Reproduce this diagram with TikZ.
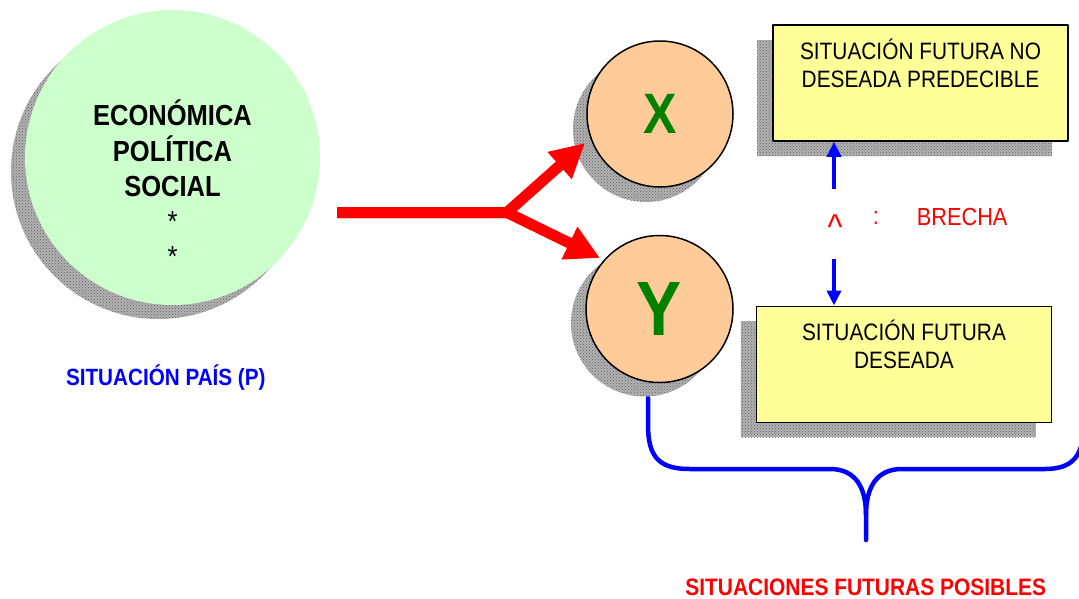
\documentclass[tikz,border=0pt]{standalone}
\usepackage{fontspec}
\setmainfont{Liberation Sans}[FakeStretch=0.88]
\usepackage{tikz}
\usetikzlibrary{arrows.meta, patterns, positioning, shadows}

\definecolor{paisfill}{HTML}{CCFFCC}
\definecolor{peach}{HTML}{FFCC99}
\definecolor{boxyellow}{HTML}{FFFF99}
\definecolor{lettergreen}{HTML}{008000}
\definecolor{arrowred}{HTML}{FF0000}
\definecolor{gapblue}{HTML}{0000FF}

\tikzset{
  grayshadow/.style 2 args={drop shadow={shadow xshift=#1, shadow yshift=#2, opacity=1,
      fill=black!30, postaction={pattern=crosshatch dots, pattern color=black!62}}},
  pais/.style={circle, fill=paisfill, minimum size=295pt, inner sep=0pt},
  future/.style={circle, draw=black, line width=1.5pt, fill=peach, inner sep=0pt,
      text=lettergreen},
  situbox/.style={rectangle, draw=black, line width=1.6pt, fill=boxyellow,
      minimum width=295pt, minimum height=116pt, grayshadow={-16pt}{-15pt}},
  boxtext/.style={align=center, inner sep=0pt, font=\fontsize{23.7}{28}\selectfont},
  redlabel/.style={text=arrowred, font=\fontsize{24.7}{28}\selectfont},
  bigarrow/.style={draw=arrowred, line width=11pt, line join=miter,
      -{Triangle[length=34pt,width=34pt]}},
  gaparrow/.style={draw=gapblue, line width=4pt, -{Triangle[length=15pt,width=14pt]}},
  brace/.style={draw=gapblue, line width=4.5pt, line cap=round}
}

\begin{document}
\begin{tikzpicture}[x=1pt,y=-1pt,line join=bevel]
\useasboundingbox (0,0) rectangle (1079,598);
%%
  % Brace: situaciones futuras
  \draw[brace] (648,398) -- (648,425) .. controls (648,458) and (660,469) .. (690,469)
    -- (830,469) .. controls (856,469) and (866,488) .. (866,515) -- (866,540);
  \draw[brace] (866,515) .. controls (866,488) and (876,469) .. (902,469)
    -- (1045,469) .. controls (1070,469) and (1083,458) .. (1083,430) -- (1083,380);
  % Node: pais
  \node[pais, grayshadow={-14pt}{-14pt}] (pais) at (172.5,157.5) {};
  \node[align=center, inner sep=0pt, font=\fontsize{29}{35.3}\selectfont\bfseries,
      below=90pt of pais.north] (paistext)
      {ECONÓMICA\\POLÍTICA\\SOCIAL\\{\mdseries *}\\{\mdseries *}};
  \node[anchor=base, text=gapblue, font=\fontsize{23.5}{28}\selectfont\bfseries]
      (paislabel) at (165.8,385) {SITUACIÓN PAÍS (P)};
  % Node: x
  \node[future, minimum size=146pt, font=\fontsize{57}{60}\selectfont\bfseries,
      grayshadow={-14pt}{-15pt}] (x) at (660,114) {X};
  % Node: y
  \node[future, minimum size=147pt, font=\fontsize{77}{80}\selectfont\bfseries,
      grayshadow={-15pt}{-14pt}] (y) at (659.5,309) {Y};
  % Node: nodeseada
  \node[situbox] (nodeseada) at (920.5,83) {};
  \node[boxtext, below=14.5pt of nodeseada.north] (nodeseadatext)
      {SITUACIÓN FUTURA NO\\DESEADA PREDECIBLE};
  % Node: deseada
  \node[situbox] (deseada) at (904,364.3) {};
  \node[boxtext, below=14.5pt of deseada.north] (deseadatext)
      {SITUACIÓN FUTURA\\DESEADA};
  % Edge: pais -- x, y
  \coordinate (arrowstart) at (337,212.5);
  \coordinate (fork) at (507,212.5);
  \coordinate (tipx) at (585,143);
  \coordinate (tipy) at (600,258);
  \draw[bigarrow] (arrowstart) -- (fork) -- (tipx);
  \draw[bigarrow] (arrowstart) -- (fork) -- (tipy);
  % Edge: brecha
  \coordinate (brechaup) at (834,189);
  \coordinate (brechadown) at (834,259);
  \draw[gaparrow] (brechaup) -- (brechaup |- nodeseada.south);
  \draw[gaparrow] (brechadown) -- (brechadown |- deseada.north);
  \node[redlabel, font=\fontsize{36}{40}\selectfont, inner sep=0pt] (caret)
      at (835,227) {\textasciicircum};
  \node[redlabel, anchor=base] (colon) at (876,224.5) {:};
  \node[redlabel, anchor=base west, inner sep=0pt] (brecha) at (916.7,225) {BRECHA};
  % Label: posibles
  \node[anchor=base, text=arrowred, font=\fontsize{23.8}{28}\selectfont\bfseries]
      (posibles) at (865.7,595) {SITUACIONES FUTURAS POSIBLES};
%
\end{tikzpicture}
\end{document}
